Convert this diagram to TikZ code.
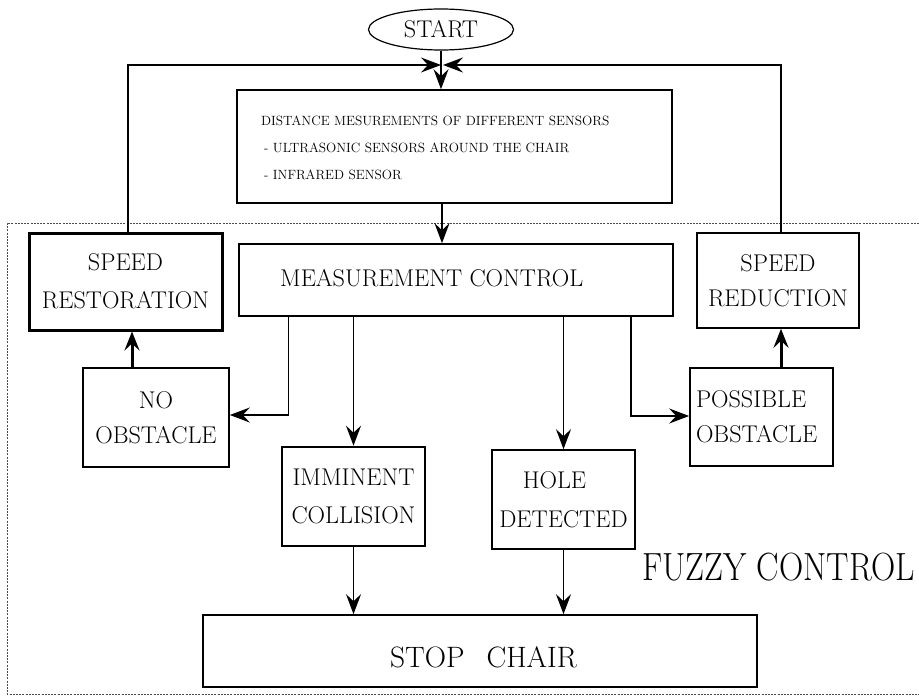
\documentclass[tikz,border=0pt]{standalone}
\usepackage{fontspec}
\usetikzlibrary{arrows.meta,shapes.geometric}
\begin{document}
\begin{tikzpicture}[x=1pt,y=-1pt,
  box/.style={draw, line width=1.6pt, inner sep=0pt, align=center, font=\fontsize{24.2}{36}\selectfont},
  thickbox/.style={box, line width=3pt},
  con/.style={line width=1.4pt, -{Stealth[length=20pt,width=15pt,inset=7pt]}},
  upcon/.style={line width=3pt, -{Stealth[length=19pt,width=15pt,inset=7pt]}},
  frame/.style={draw=black!70, line width=0.7pt, dash pattern=on 2pt off 1.2pt},
  txt/.style={inner sep=0pt}]
\useasboundingbox (0,0) rectangle (919,698);

% frame of the fuzzy control part
\draw[frame] (919,223) -- (7,223) -- (7,694) -- (919,694);

% nodes
\node[draw, ellipse, line width=1.2pt, minimum width=145pt, minimum height=41pt, inner sep=0pt] (start) at (441,29.5)
  {\fontsize{24.2}{26}\selectfont START};

\node[box, minimum width=435pt, minimum height=113pt] (info) at (454.5,146.5) {};
\node[txt, anchor=base west, font=\fontsize{13.4}{15}\selectfont] (info1) at (261,126) {DISTANCE MESUREMENTS OF DIFFERENT SENSORS};
\node[txt, anchor=base west, font=\fontsize{13.4}{15}\selectfont] (info2) at (264,153) {- ULTRASONIC SENSORS AROUND THE CHAIR};
\node[txt, anchor=base west, font=\fontsize{13.4}{15}\selectfont] (info3) at (264,180) {- INFRARED SENSOR};

\node[box, minimum width=434pt, minimum height=72pt] (mc) at (456,280) {};
\node[txt, anchor=base west, font=\fontsize{24.2}{28}\selectfont] (mct) at (280,286) {MEASUREMENT CONTROL};

\node[thickbox, minimum width=193pt, minimum height=97pt, font=\fontsize{24.2}{38}\selectfont] (sr) at (125.5,281.5) {SPEED\\RESTORATION};
\node[box, minimum width=162pt, minimum height=95pt, font=\fontsize{24.2}{35}\selectfont] (sred) at (778,280.5) {SPEED\\REDUCTION};
\node[box, minimum width=146pt, minimum height=99pt, font=\fontsize{24.2}{35}\selectfont] (noobs) at (156,417.5) {NO\\OBSTACLE};
\node[box, text width=131pt, inner xsep=6pt, align=left, minimum height=98pt, font=\fontsize{24.2}{35}\selectfont] (posobs) at (761.5,417) {POSSIBLE\\OBSTACLE};
\node[thickbox, line width=2.6pt, minimum width=143pt, minimum height=99pt, font=\fontsize{24.2}{38}\selectfont] (imm) at (353.5,496.5) {IMMINENT\\COLLISION};
\node[box, minimum width=143pt, minimum height=99pt, font=\fontsize{24.2}{39}\selectfont] (hole) at (563.5,499.5) {HOLE\hspace*{18pt}\\DETECTED};

\node[box, minimum width=554pt, minimum height=72pt] (stop) at (480,651) {};
\node[txt, anchor=base, font=\fontsize{29.5}{32}\selectfont] (stopt) at (483.5,667) {STOP\hspace{22pt}CHAIR};

\node[txt, anchor=base west] (fuzzy) at (642,580) {\scalebox{1}[1.17]{\fontsize{33.6}{36}\selectfont FUZZY CONTROL}};

% connectors
\coordinate (j) at (442,65);
\draw[con] ([xshift=2.5pt]sr.north) |- ([xshift=-1pt]j);
\draw[con] ([xshift=3pt]sred.north) |- ([xshift=1pt]j);
\draw[con] (start.south) -- (start.south |- info.north);
\draw[con] (info.south -| j) -- (mc.north -| j);
\draw[con] ([xshift=50pt]mc.south west) |- ([yshift=2.5pt]noobs.east);
\draw[con] (mc.south -| imm.north) -- (imm.north);
\draw[con] (mc.south -| hole.north) -- (hole.north);
\draw[con] ([xshift=-43pt]mc.south east) |- ([yshift=1pt]posobs.west);
\draw[upcon] ([xshift=-24pt]noobs.north) -- ([xshift=6.5pt]sr.south);
\draw[upcon] ([xshift=19.5pt]posobs.north) -- ([xshift=3pt]sred.south);
\draw[con] (imm.south) -- (imm.south |- stop.north);
\draw[con, line width=1.8pt] (hole.south) -- (hole.south |- stop.north);
\end{tikzpicture}
\end{document}
